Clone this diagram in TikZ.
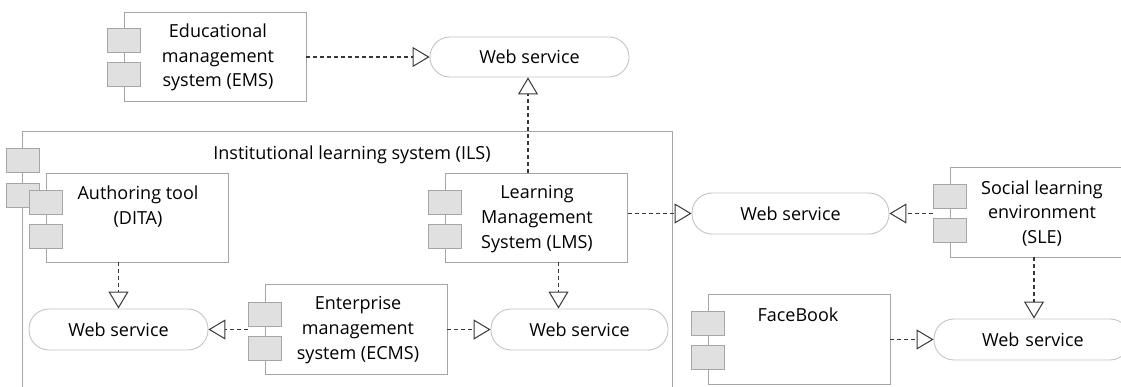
\documentclass[tikz,border=0pt]{standalone}
\usepackage{fontspec}
\setmainfont{Open Sans}
\usetikzlibrary{arrows.meta,calc}
\definecolor{boxgray}{HTML}{A6A6A6}
\definecolor{wsgray}{HTML}{C4C4C4}
\definecolor{tabfill}{HTML}{E0E0E0}
\definecolor{arrowc}{HTML}{383838}
\begin{document}
\begin{tikzpicture}[x=1pt,y=-1pt,
  comp/.style={draw=boxgray, line width=0.9pt, fill=white, minimum width=182pt, minimum height=89pt, inner sep=0pt, anchor=center},
  tab/.style={draw=boxgray, line width=0.9pt, fill=tabfill, minimum width=33pt, minimum height=24pt, inner sep=0pt},
  ws/.style={draw=wsgray, line width=0.9pt, fill=white, rounded corners=20pt, minimum height=41pt, inner sep=0pt, font=\fontsize{18}{20}\selectfont, text=black},
  lbl/.style={align=center, inner sep=0pt, font=\fontsize{18}{24.8}\selectfont, text=black},
  dep/.style={draw=arrowc, line width=1.1pt, dash pattern=on 4pt off 3pt,
     -{Triangle[open, length=17pt, width=20pt, line width=1pt, fill=white]}}
  ]
\useasboundingbox (0,0) rectangle (1121,387);
\clip (0,0) rectangle (1121,387);

% ILS container
\node[draw=boxgray, line width=0.9pt, minimum width=650pt, minimum height=300pt, inner sep=0pt, anchor=north west] (ILS) at (22,131) {};
\node[tab] (ilst1) at (23,160) {};
\node[tab] (ilst2) at (23,195) {};
\node[lbl, anchor=center] (ilsl) at (352,155) {Institutional learning system (ILS)};

% EMS
\node[comp] (EMS) at (215,56.5) {};
\node[tab] (emst1) at (EMS.west |- 0,40) {};
\node[tab] (emst2) at (EMS.west |- 0,74) {};
\node[lbl] (emsl) at (218,57.5) {Educational\\management\\system (EMS)};

% Authoring tool
\node[comp] (AUT) at (137,217.5) {};
\node[tab] (autt1) at (AUT.west |- 0,202) {};
\node[tab] (autt2) at (AUT.west |- 0,236) {};
\node[lbl] (autl) at (138,206.5) {Authoring tool\\(DITA)};

% LMS
\node[comp] (LMS) at (536.5,217.5) {};
\node[tab] (lmst1) at (LMS.west |- 0,202) {};
\node[tab] (lmst2) at (LMS.west |- 0,236) {};
\node[lbl] (lmsl) at (537,219) {Learning\\Management\\System (LMS)};

% ECMS
\node[comp, minimum height=90pt] (ECMS) at (356,329) {};
\node[tab] (ecmst1) at (ECMS.west |- 0,314) {};
\node[tab] (ecmst2) at (ECMS.west |- 0,348) {};
\node[lbl] (ecmsl) at (358,330) {Enterprise\\management\\system (ECMS)};

% SLE
\node[comp, minimum height=90pt] (SLE) at (1041,212) {};
\node[tab] (slet1) at (SLE.west |- 0,196) {};
\node[tab] (slet2) at (SLE.west |- 0,230) {};
\node[lbl] (slel) at (1042,213.5) {Social learning\\environment\\(SLE)};

% FaceBook
\node[comp, minimum height=90pt] (FB) at (799,339) {};
\node[tab] (fbt1) at (FB.west |- 0,323) {};
\node[tab] (fbt2) at (FB.west |- 0,357) {};
\node[lbl] (fbl) at (798,315) {FaceBook};

% Web services
\node[ws, minimum width=199pt, minimum height=40pt] (WST) at (529.5,57) {Web service};
\node[ws, minimum width=179pt] (WSL) at (118.5,329.5) {Web service};
\node[ws, minimum width=177pt] (WSR) at (579.5,329.5) {Web service};
\node[ws, minimum width=197pt] (WSM) at (790.5,213.5) {Web service};
\node[ws, minimum width=196pt, text width=170pt, align=left] (WSB) at (1032,339.5) {\hspace*{35pt}Web service};

% Dependencies
\draw[dep] (EMS.east |- WST.west) -- (WST.west);
\draw[dep] ([xshift=-1.5pt]WST.south |- LMS.north) -- ([xshift=-1.5pt]WST.south);
\draw[dep] (WSL.north |- AUT.south) -- (WSL.north);
\draw[dep] (ecmst2.west |- WSL.east) -- (WSL.east);
\draw[dep] (ECMS.east |- WSR.west) -- (WSR.west);
\draw[dep] ([xshift=22pt]LMS.south) -- ([xshift=22pt]LMS.south |- WSR.north);
\draw[dep] (LMS.east |- WSM.west) -- (WSM.west);
\draw[dep] (slet2.west |- WSM.east) -- (WSM.east);
\draw[dep] ([xshift=2pt]WSB.north |- SLE.south) -- ([xshift=2pt]WSB.north);
\draw[dep] (FB.east |- WSB.west) -- (WSB.west);
\end{tikzpicture}
\end{document}
